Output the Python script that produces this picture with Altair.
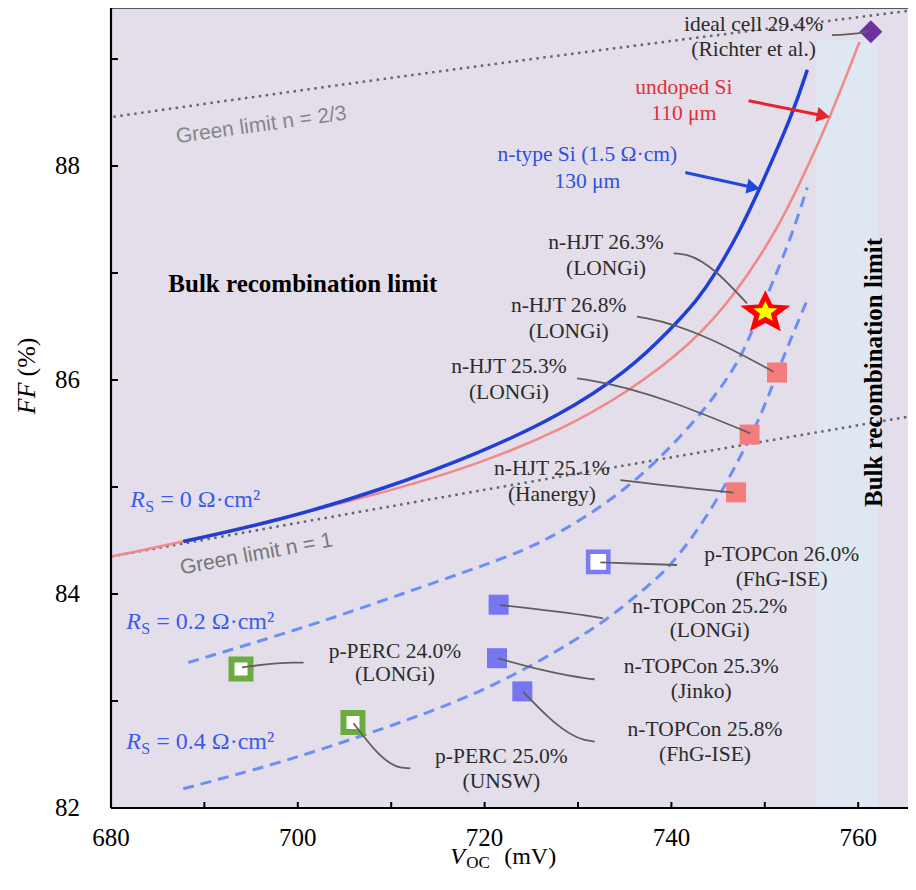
import math
import altair as alt
import pandas as pd

# ---------------- curves (V_OC in mV, FF in %) ----------------
ntype_x = [687.74, 698.13, 708.84, 719.55, 728.11, 735.28, 739.89, 742.78, 744.49, 747.38, 749.52, 753.05, 754.55]
ntype_y = [84.49, 84.69, 84.97, 85.32, 85.67, 86.08, 86.47, 86.75, 86.96, 87.40, 87.80, 88.50, 88.90]
fill_x = ntype_x + [756.0]
fill_y = ntype_y + [89.05]
undoped_x = [680.0, 687.42, 708.84, 719.55, 728.11, 735.28, 742.35, 746.84, 751.30, 753.82, 757.03, 760.14]
undoped_y = [84.35, 84.48, 84.93, 85.22, 85.53, 85.88, 86.35, 86.80, 87.40, 87.85, 88.46, 89.16]
rs02_x = [688.28, 701.67, 712.37, 723.08, 728.11, 735.28, 742.35, 746.95, 748.45, 750.06, 752.74, 754.55]
rs02_y = [83.36, 83.71, 84.04, 84.36, 84.57, 84.97, 85.58, 86.12, 86.42, 86.75, 87.31, 87.80]
rs04_x = [687.74, 698.13, 708.84, 719.55, 728.11, 733.14, 737.0, 739.89, 744.17, 747.38, 749.52, 751.34, 753.05, 754.55]
rs04_y = [82.18, 82.42, 82.73, 83.07, 83.48, 83.76, 84.04, 84.25, 84.76, 85.28, 85.65, 86.07, 86.44, 86.75]
green23_x = [680.25, 717.40, 766.22]
green23_y = [88.46, 88.92, 89.46]
green1_x = [680.0, 717.40, 766.22]
green1_y = [84.35, 84.94, 85.67]

# vertical band (V_OC limits)
band_x0 = [755.45]
band_x1 = [762.1]
band_y1 = [89.18]

# ---------------- cells ----------------
hjt_x = [751.31, 748.37, 746.92]
hjt_y = [86.07, 85.49, 84.95]
ntop_x = [721.50, 721.33, 724.04]
ntop_y = [83.90, 83.40, 83.09]
ptop_x = [732.17]
ptop_y = [84.30]
perc_x = [693.92, 705.91]
perc_y = [83.30, 82.80]
ideal_x = [761.35]
ideal_y = [89.255]
star_x = [750.06]
star_y = [86.645]

# ---------------- leader lines ----------------
lead_id = [1, 1, 1, 2, 2, 2, 3, 3, 3, 4, 4, 4, 5, 5, 5, 6, 6, 7, 7, 7, 8, 8, 8, 9, 9, 9, 10, 10, 10, 11, 11, 11]
lead_x = [757.19, 759.87, 761.11, 740.24, 741.67, 748.09, 736.32, 737.39, 750.94,
          729.89, 731.13, 748.45, 734.53, 735.95, 746.66, 732.39, 740.60,
          721.61, 731.61, 732.68, 721.43, 730.89, 731.78, 724.11, 730.71, 731.78,
          694.03, 699.55, 700.62, 705.97, 710.97, 712.04]
lead_y = [89.224, 89.240, 89.264, 87.184, 87.168, 86.717, 86.592, 86.577, 86.078,
          86.016, 86.000, 85.502, 85.065, 85.050, 84.947, 84.296, 84.271,
          83.897, 83.788, 83.773, 83.399, 83.212, 83.203, 83.087, 82.636, 82.620,
          83.315, 83.358, 83.358, 82.792, 82.380, 82.371]

# ---------------- arrows ----------------
red_arrow_x = [748.27, 756.27]
red_arrow_y = [88.61, 88.47]
blue_arrow_x = [741.49, 748.78]
blue_arrow_y = [87.94, 87.80]

# ---------------- labels ----------------
ann_text = ["ideal cell 29.4%", "(Richter et al.)", "n-HJT 26.3%", "(LONGi)", "n-HJT 26.8%", "(LONGi)",
            "n-HJT 25.3%", "(LONGi)", "n-HJT 25.1%", "(Hanergy)", "p-TOPCon 26.0%", "(FhG-ISE)",
            "n-TOPCon 25.2%", "(LONGi)", "n-TOPCon 25.3%", "(Jinko)", "n-TOPCon 25.8%", "(FhG-ISE)",
            "p-PERC 24.0%", "(LONGi)", "p-PERC 25.0%", "(UNSW)"]
ann_x = [748.8, 748.8, 733.0, 733.0, 729.0, 729.0, 722.6, 722.6, 727.2, 727.2, 751.8, 751.8,
         744.1, 744.1, 743.2, 743.2, 743.6, 743.6, 710.4, 710.4, 721.8, 721.8]
ann_y = [89.32, 89.08, 87.28, 87.04, 86.69, 86.45, 86.12, 85.88, 85.17, 84.93, 84.36, 84.13,
         83.88, 83.65, 83.32, 83.08, 82.73, 82.50, 83.46, 83.24, 82.48, 82.24]
undoped_text = ["undoped Si", "110 μm"]
undoped_tx = [741.33, 741.33]
undoped_ty = [88.73, 88.49]
ntype_text = ["n-type Si (1.5 Ω·cm)", "130 μm"]
ntype_tx = [731.0, 731.0]
ntype_ty = [88.10, 87.85]
rs_text = ["= 0 Ω·cm²", "= 0.2 Ω·cm²", "= 0.4 Ω·cm²"]
rs_x = [682.07, 681.64, 681.64]
rs_y = [84.88, 83.74, 82.62]
bulk_h = ["Bulk recombination limit"]
bulk_hx = [686.14]
bulk_hy = [86.90]
bulk_v = ["Bulk recombination limit"]
bulk_vx = [761.72]
bulk_vy = [86.07]
g23_text = ["Green limit n = 2/3"]
g23_tx = [696.09]
g23_ty = [88.38]
g1_text = ["Green limit n = 1"]
g1_tx = [695.56]
g1_ty = [84.37]
ytitle_x = [671.04]
ytitle_y = [85.977]
xtitle_x = [716.31]
xtitle_y = [81.542]
xsub_y = [81.49]

x_ticks = [680, 690, 700, 710, 720, 730, 740, 750, 760]
y_ticks = [82, 83, 84, 85, 86, 87, 88, 89]
x_labels = [680, 700, 720, 740, 760]
y_labels = [82, 84, 86, 88]

# ---------------- chart ----------------
W, H = 797, 800
SERIF = "Liberation Serif"
SANS = "Liberation Sans"
CURVE = "basis"
xs = alt.Scale(domain=[680, 680 + W / 9.34], nice=False, zero=False)
ys = alt.Scale(domain=[82, 89.477], nice=False, zero=False)


def X(f="x"):
    return alt.X(f"{f}:Q", scale=xs, axis=None)


def Y(f="y"):
    return alt.Y(f"{f}:Q", scale=ys, axis=None)


def df_xy(xv, yv, **extra):
    d = pd.DataFrame({"x": xv, "y": yv})
    d["y0"] = 82.0
    for k, v in extra.items():
        d[k] = v
    d["o"] = range(len(d))
    return d


layers = []

# fills
layers.append(alt.Chart(df_xy(fill_x, fill_y)).mark_area(color="#fde6e6", interpolate=CURVE)
              .encode(x=X(), y=Y(), y2="y0", order="o:Q"))
layers.append(alt.Chart(df_xy(undoped_x, undoped_y)).mark_area(color="white", interpolate=CURVE)
              .encode(x=X(), y=Y(), y2="y0", order="o:Q"))
band = pd.DataFrame({"x0": band_x0, "x1": band_x1, "y1": band_y1, "y0": [82.0]})
layers.append(alt.Chart(band).mark_rect(color="#dfe7f2")
              .encode(x=X("x0"), x2="x1", y=Y("y1"), y2="y0"))

# green limits (dotted)
gdf = pd.concat([df_xy(green23_x, green23_y, id="a"), df_xy(green1_x, green1_y, id="b")])
layers.append(alt.Chart(gdf).mark_line(color="#666666", strokeWidth=2.5, strokeDash=[2.5, 4.5],
                                       interpolate=CURVE, clip=True)
              .encode(x=X(), y=Y(), detail="id:N", order="o:Q"))

# series resistance curves (dashed)
rdf = pd.concat([df_xy(rs02_x, rs02_y, id="a"), df_xy(rs04_x, rs04_y, id="b")])
layers.append(alt.Chart(rdf).mark_line(color="#6d8ef5", strokeWidth=3, strokeDash=[11, 7],
                                       interpolate=CURVE)
              .encode(x=X(), y=Y(), detail="id:N", order="o:Q"))

# limit curves
layers.append(alt.Chart(df_xy(undoped_x, undoped_y)).mark_line(color="#f08a8a", strokeWidth=2.6,
                                                              interpolate=CURVE)
              .encode(x=X(), y=Y(), order="o:Q"))
layers.append(alt.Chart(df_xy(ntype_x, ntype_y)).mark_line(color="#1f3fd6", strokeWidth=3.5,
                                                          interpolate=CURVE)
              .encode(x=X(), y=Y(), order="o:Q"))

# markers
layers.append(alt.Chart(df_xy(hjt_x, hjt_y)).mark_point(shape="square", size=400, filled=True,
                                                       color="#f47c7c", opacity=1)
              .encode(x=X(), y=Y()))
layers.append(alt.Chart(df_xy(ntop_x, ntop_y)).mark_point(shape="square", size=400, filled=True,
                                                         color="#7676f0", opacity=1)
              .encode(x=X(), y=Y()))
layers.append(alt.Chart(df_xy(ptop_x, ptop_y)).mark_point(shape="square", size=408, fill="white",
                                                         stroke="#7b7bf5", strokeWidth=4.5, opacity=1,
                                                         fillOpacity=1)
              .encode(x=X(), y=Y()))
layers.append(alt.Chart(df_xy(perc_x, perc_y)).mark_point(shape="square", size=361, fill="white",
                                                         stroke="#6aab42", strokeWidth=6, opacity=1,
                                                         fillOpacity=1)
              .encode(x=X(), y=Y()))
layers.append(alt.Chart(df_xy(ideal_x, ideal_y)).mark_point(shape="diamond", size=529, filled=True,
                                                           color="#7030a0", opacity=1)
              .encode(x=X(), y=Y()))

pts = []
for k in range(10):
    a = math.radians(-90 + 36 * k)
    r = 1.0 if k % 2 == 0 else 0.45
    pts.append((r * math.cos(a), r * math.sin(a) * 0.86 + 0.07))
star_path = "M" + "L".join(f"{px:.4f},{py:.4f}" for px, py in pts) + "Z"
layers.append(alt.Chart(df_xy(star_x, star_y)).mark_point(shape=star_path, size=2765, filled=True,
                                                         color="#ff0000", opacity=1)
              .encode(x=X(), y=Y()))
layers.append(alt.Chart(df_xy(star_x, star_y)).mark_point(shape=star_path, size=640, filled=True,
                                                         color="#ffff00", opacity=1)
              .encode(x=X(), y=Y()))

# leader lines
ldf = pd.DataFrame({"x": lead_x, "y": lead_y, "id": lead_id})
ldf["o"] = range(len(ldf))
layers.append(alt.Chart(ldf).mark_line(color="#5f5f5f", strokeWidth=1.8, interpolate="monotone")
              .encode(x=X(), y=Y(), detail="id:N", order="o:Q"))

# arrows
for ax, ay, col, ang in [(red_arrow_x, red_arrow_y, "#e8222a", 11.5),
                         (blue_arrow_x, blue_arrow_y, "#2446e0", 11.7)]:
    adf = df_xy(ax, ay)
    layers.append(alt.Chart(adf).mark_line(color=col, strokeWidth=3).encode(x=X(), y=Y(), order="o:Q"))
    layers.append(alt.Chart(adf.iloc[[1]]).mark_point(shape="triangle-right", size=230, filled=True,
                                                      color=col, opacity=1, angle=ang)
                  .encode(x=X(), y=Y()))


# texts
def text_layer(tx, xv, yv, **kw):
    d = pd.DataFrame({"x": xv, "y": yv, "t": tx})
    base = dict(font=SERIF, fontSize=21.5, color="#2b2b2b", align="center", baseline="middle")
    base.update(kw)
    return alt.Chart(d).mark_text(**base).encode(x=X(), y=Y(), text="t:N")


layers.append(text_layer(ann_text, ann_x, ann_y))
layers.append(text_layer(undoped_text, undoped_tx, undoped_ty, color="#e0303a"))
layers.append(text_layer(ntype_text, ntype_tx, ntype_ty, color="#2f4fe0"))
layers.append(text_layer(["R"] * 3, rs_x, rs_y, color="#3a5af0", fontSize=24, fontStyle="italic", align="left"))
layers.append(text_layer(["S"] * 3, rs_x, rs_y, color="#3a5af0", fontSize=16, align="left", dx=15, dy=7))
layers.append(text_layer(rs_text, rs_x, rs_y, color="#3a5af0", fontSize=24, align="left", dx=30))
layers.append(text_layer(bulk_h, bulk_hx, bulk_hy, color="black", fontSize=25, fontWeight="bold", align="left"))
layers.append(text_layer(bulk_v, bulk_vx, bulk_vy, color="black", fontSize=25, fontWeight="bold", angle=270))
layers.append(text_layer(g23_text, g23_tx, g23_ty, font=SANS, color="#868686", fontSize=21, angle=352))
layers.append(text_layer(g1_text, g1_tx, g1_ty, font=SANS, color="#777777", fontSize=21, angle=349.5))
# axis titles
layers.append(text_layer(["FF"], ytitle_x, ytitle_y, color="black", fontSize=26, fontStyle="italic",
                         align="right", angle=270))
layers.append(text_layer(["(%)"], ytitle_x, ytitle_y, color="black", fontSize=26, align="left",
                         angle=270, dx=6))
layers.append(text_layer(["V"], xtitle_x, xtitle_y, color="black", fontSize=24, fontStyle="italic", align="left"))
layers.append(text_layer(["OC"], xtitle_x, xsub_y, color="black", fontSize=17, align="left", dx=16))
layers.append(text_layer(["(mV)"], xtitle_x, xtitle_y, color="black", fontSize=24, align="left", dx=54))

# tick labels
xl = pd.DataFrame({"x": x_labels, "y": [82.0] * len(x_labels), "t": [str(v) for v in x_labels]})
layers.append(alt.Chart(xl).mark_text(font=SERIF, fontSize=25, color="black", align="center",
                                      baseline="middle", dy=30)
              .encode(x=X(), y=Y(), text="t:N"))
yl = pd.DataFrame({"x": [680.0] * len(y_labels), "y": y_labels, "t": [str(v) for v in y_labels]})
layers.append(alt.Chart(yl).mark_text(font=SERIF, fontSize=25, color="black", align="right",
                                      baseline="middle", dx=-31)
              .encode(x=X(), y=Y(), text="t:N"))

# ticks (inward)
xt = pd.DataFrame({"x": x_ticks, "y0": 82.0})
layers.append(alt.Chart(xt).mark_rule(color="black", strokeWidth=2, y2Offset=-6)
              .encode(x=X(), y=Y("y0"), y2="y0"))
yt = pd.DataFrame({"y": y_ticks, "x0": 680.0})
layers.append(alt.Chart(yt).mark_rule(color="black", strokeWidth=2, x2Offset=7)
              .encode(y=Y(), x=X("x0"), x2="x0"))

# frame lines (top border, left and bottom axis lines)
one = pd.DataFrame({"a": [0]})
layers.append(alt.Chart(one).mark_rule(color="#555555", strokeWidth=2)
              .encode(x=alt.value(0), x2=alt.value(W), y=alt.value(0)))
layers.append(alt.Chart(one).mark_rule(color="black", strokeWidth=2.2)
              .encode(x=alt.value(0), x2=alt.value(W), y=alt.value(H)))
layers.append(alt.Chart(one).mark_rule(color="black", strokeWidth=2.2)
              .encode(x=alt.value(0), y=alt.value(0), y2=alt.value(H)))

chart = alt.layer(*layers).properties(
    width=W, height=H,
    padding={"left": 103, "top": 0, "right": 0, "bottom": 63},
    autosize=alt.AutoSizeParams(type="none"),
    background="white",
).configure_view(fill="#e3dee9", stroke=None)

chart.save("out.html", embed_options={"renderer": "svg", "actions": False})
